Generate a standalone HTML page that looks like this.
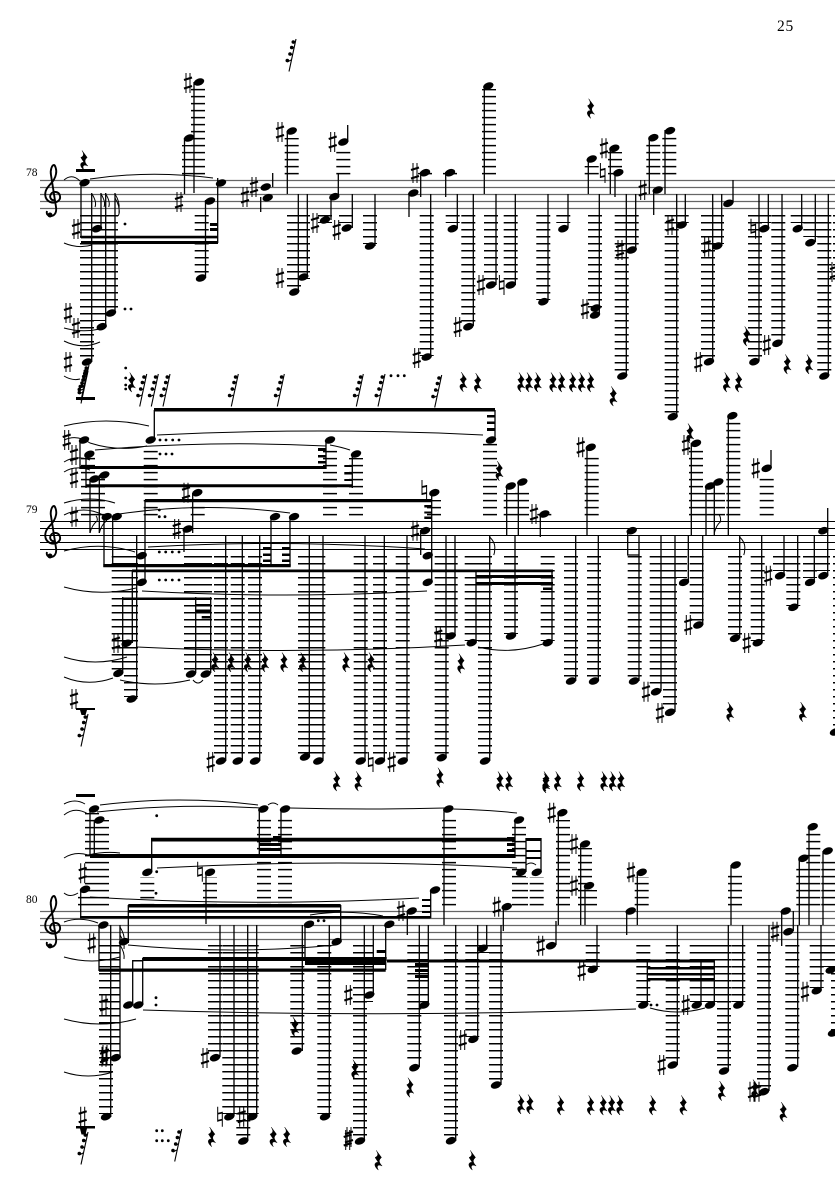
<!DOCTYPE html>
<html><head><meta charset="utf-8"><style>
html,body{margin:0;padding:0;background:#fff}
svg{display:block}
.l{fill:none;stroke:#000;stroke-width:14;stroke-dasharray:1.5 5.5}
.t{fill:none;stroke:#000;stroke-width:1.3}
.c{fill:none;stroke:#000;stroke-width:1}
text{font-family:"Liberation Serif",serif;fill:#000}
</style></head><body>
<svg width="835" height="1181" viewBox="0 0 835 1181" xmlns="http://www.w3.org/2000/svg">
<defs>
<ellipse id="n" rx="5.4" ry="3.5" transform="rotate(-20)"/>
<g id="s"><path d="M-2-10V10M2-10V10" stroke="#000" stroke-width="1" fill="none"/><path d="M-4-3L4-5.5M-4 5.5L4 3" stroke="#000" stroke-width="2.1" fill="none"/></g>
<g id="h"><path d="M-2.3-10V5M2.3-5V10" stroke="#000" stroke-width="1" fill="none"/><path d="M-2.3-3L2.3-4M-2.3 4L2.3 3" stroke="#000" stroke-width="1.7" fill="none"/></g>
<path id="r" d="M-2-9.5L3.2-2.5C.2 0 .2 2 3.8 6C.2 4-2.5 5.5 0 10C-5 6-4 1.8 0 2.4L-3.2-2.5C0-4 .2-6-2-9.5Z" stroke="#000" stroke-width=".5"/>
<g id="f"><path d="M5-16L-2 16.5" stroke="#000" stroke-width="1.1" fill="none"/><circle cx="2.3" cy="-13" r="1.8"/><circle cx=".7" cy="-7.5" r="1.8"/><circle cx="-1" cy="-1" r="1.8"/><circle cx="-3.7" cy="5.5" r="1.8"/><path d="M2.3-11.5L4.5-13M.7-6L3-8M-1 .5L1.5-1M-3.7 7L0 5" stroke="#000" stroke-width="1" fill="none"/></g>
<g id="k"><path d="M55 28c-4 1-6-3-4-6c2-3 8-3 9 2c1 5-5 8-10 6c-6-3-6-10-2-15c3-4 7-7 8-13c1-4-1-9-2-9c-2 0-4 5-3 10l5 32c1 6-2 9-5 9c-3 0-5-2-4-5" fill="none" stroke="#000" stroke-width="1.9"/><circle cx="50" cy="43" r="2.5"/></g>
</defs>
<rect width="835" height="1181" fill="#fff"/>
<text x="777" y="31" font-size="15.5" letter-spacing=".8">25</text>
<text x="26" y="176" font-size="11.5">78</text>
<text x="26" y="513" font-size="11.5">79</text>
<text x="26" y="903" font-size="11.5">80</text>

<!-- staves -->
<path d="M40 180.5H835M40 187.5H835M40 194.5H835M40 201.5H835M40 208.5H835" stroke="#666" stroke-width="1.2" fill="none"/>
<path d="M40 521.5H835M40 528.5H835M40 535.5H835M40 542.5H835M40 549.5H835" stroke="#000" stroke-width="1" fill="none"/>
<path d="M40 911.5H835M40 918.5H835M40 925.5H835M40 932.5H835M40 939.5H835" stroke="#666" stroke-width="1.2" fill="none"/>
<use href="#k" x="0" y="172"/><use href="#k" x="0" y="513"/><use href="#k" x="0" y="903"/>

<!-- system 1 ledgers -->
<path class="l" d="M87 215V359M99 215V321M111 215V311M201.7 215V276M294 215V291M303 215V279M325 215V223M346 215V223M370 215V244M426.7 215V356M452.7 215V223M468.3 215V325M491 215V283M510.7 215V283M543.3 215V300M563.3 215V223M595 215V311M631.7 215V246M621.7 215V374M681.7 215V223M671.7 215V415M708 215V360M717 215V244M755 215V360M764 215V223M778.3 215V339M797.7 215V223M810.3 215V237M824.3 215V374M840 215V281"/>
<path class="l" d="M198 174.4V87M189 174.4V145M291.7 174.4V138M343.3 174.4V149M489 174.4V89M591.7 174.4V166M615 174.4V152M653.3 174.4V144M669.3 174.4V137M425 174.4V172M450 174.4V172"/>
<!-- system 1 stems -->
<path class="t" d="M81 183V238M91.7 193V362M101 193V229M105.7 193V327M115 193V313M184.5 138V194M194 82V193M205.5 200V278M217.7 178V243M272.7 173V187M260.7 197V212M287.3 131V194M298.3 194V292M307.3 194V277M331 197V220M338.3 173V197M347.7 125V142M352.3 194V228M375 194V246M409 193V217M420.7 172V197M430.7 194V357M445.7 172V197M457.3 194V228M473.3 194V326M496 194V285M515.3 194V285M484.3 86V194M548 194V301M568 194V228M588.3 159V194M610.3 148V194M615 172V197M599.3 194V315M635.7 194V250M626.3 194V376M653.7 190V215M649.3 137V194M665 130V194M685.3 194V225M676.7 194V416M733 180V203M721.7 194V246M712.7 194V361M768.3 194V228M759 194V361M782 194V343M801.7 194V228M815.3 194V242M828.3 194V376"/>
<!-- system 1 beams -->
<path d="M81 235.7h137v2.7h-137zM81 241h137v3h-137zM210 223h8v3h-8zM210 228h8v3h-8zM76 169h19v3h-19zM76 397h19v3h-19zM154 408h341v3.5h-341z"/>
<!-- flags -->
<path class="c" d="M92 194q5 8 3 13M101 194q5 8 3 13M105.7 194q5 8 3 13M115 194q5 8 4 15q1 4-1 7M115 198q5 8 4 15"/>
<!-- ties -->
<path class="c" d="M64 180Q72 173 80 181M90 179Q150 170 213 178M64 243Q78 249 92 245M64 328Q82 333 100 329M64 341Q82 350 100 342M64 376Q72 381 80 379"/>
<g>
<use href="#n" x="84.5" y="182.7"/><use href="#n" x="97" y="228.7"/><use href="#n" x="111" y="313"/><use href="#n" x="101.7" y="326.7"/><use href="#n" x="87" y="362"/><use href="#n" x="199" y="82"/><use href="#n" x="189" y="138"/><use href="#n" x="210" y="201"/><use href="#n" x="221" y="183"/><use href="#n" x="201" y="278"/><use href="#n" x="265.7" y="187"/><use href="#n" x="267.7" y="197.7"/><use href="#n" x="291.7" y="131"/><use href="#n" x="294.3" y="292"/><use href="#n" x="303.3" y="277"/><use href="#n" x="325" y="220"/><use href="#n" x="334.3" y="196.7"/><use href="#n" x="343.3" y="142"/><use href="#n" x="346.7" y="228"/><use href="#n" x="370" y="246"/><use href="#n" x="413.3" y="193"/><use href="#n" x="425" y="172.7"/><use href="#n" x="426.7" y="357"/><use href="#n" x="450" y="172.7"/><use href="#n" x="452.7" y="228.7"/><use href="#n" x="468.3" y="326.7"/><use href="#n" x="491" y="285"/><use href="#n" x="510.7" y="285"/><use href="#n" x="488.3" y="86"/><use href="#n" x="543.3" y="301.7"/><use href="#n" x="563.3" y="228.7"/><use href="#n" x="591.7" y="159"/><use href="#n" x="614.3" y="148.3"/><use href="#n" x="618.3" y="172.7"/><use href="#n" x="595" y="315"/><use href="#n" x="595.7" y="308"/><use href="#n" x="631.7" y="250"/><use href="#n" x="622.3" y="376"/><use href="#n" x="657.7" y="190"/><use href="#n" x="653.3" y="137.7"/><use href="#n" x="670" y="130.7"/><use href="#n" x="681.7" y="225"/><use href="#n" x="672.7" y="416.7"/><use href="#n" x="728.3" y="203.3"/><use href="#n" x="717.3" y="246"/><use href="#n" x="709" y="361.7"/><use href="#n" x="764.3" y="228.7"/><use href="#n" x="754.3" y="361.7"/><use href="#n" x="777.3" y="343.3"/><use href="#n" x="797.7" y="228.7"/><use href="#n" x="810.3" y="242.7"/><use href="#n" x="824.3" y="376"/>
<use href="#s" x="76" y="229"/><use href="#s" x="68" y="313"/><use href="#s" x="76" y="328"/><use href="#s" x="68" y="362"/><use href="#s" x="188" y="83"/><use href="#s" x="179" y="202"/><use href="#s" x="245" y="197"/><use href="#s" x="254" y="187"/><use href="#s" x="280" y="132"/><use href="#s" x="280" y="278"/><use href="#s" x="315" y="223"/><use href="#s" x="336.7" y="230"/><use href="#s" x="332.7" y="142"/><use href="#s" x="415" y="173"/><use href="#s" x="416.7" y="358"/><use href="#s" x="457.7" y="327"/><use href="#s" x="481" y="285"/><use href="#s" x="604" y="148.3"/><use href="#s" x="585" y="309"/><use href="#s" x="620" y="250"/><use href="#s" x="642.7" y="190"/><use href="#s" x="670" y="225"/><use href="#s" x="706.7" y="246.7"/><use href="#s" x="698.3" y="362"/><use href="#s" x="766.7" y="345"/><use href="#s" x="834" y="272"/>
<use href="#h" x="501.7" y="285"/><use href="#h" x="602.7" y="173"/><use href="#h" x="753.3" y="228.7"/>
<use href="#r" x="590.7" y="108.3"/><use href="#r" x="746.7" y="336"/><use href="#r" x="787.3" y="364"/><use href="#r" x="809" y="364"/><use href="#r" x="463.3" y="381.7"/><use href="#r" x="477.7" y="382.7"/><use href="#r" x="521" y="382"/><use href="#r" x="529" y="382"/><use href="#r" x="537.7" y="382"/><use href="#r" x="553" y="382"/><use href="#r" x="561.7" y="382"/><use href="#r" x="572.7" y="382"/><use href="#r" x="581.7" y="382"/><use href="#r" x="590.7" y="382"/><use href="#r" x="613.3" y="396"/><use href="#r" x="726.7" y="382"/><use href="#r" x="738.7" y="382"/><use href="#r" x="131.7" y="382"/>
<use href="#f" x="291" y="55"/><use href="#f" x="141.7" y="390"/><use href="#f" x="153.3" y="390"/><use href="#f" x="165" y="390"/><use href="#f" x="233.3" y="390"/><use href="#f" x="279.3" y="390"/><use href="#f" x="358.3" y="390"/><use href="#f" x="380" y="390"/><use href="#f" x="436.7" y="391"/><use href="#f" x="84" y="381"/><use href="#f" x="83" y="384"/><use href="#f" x="83" y="387"/>
<use href="#r" x="84" y="160"/>
<circle cx="125" cy="224" r="1.4"/><circle cx="125" cy="309" r="1.4"/><circle cx="131" cy="309" r="1.4"/><circle cx="391" cy="375.7" r="1.4"/><circle cx="398" cy="375.7" r="1.4"/><circle cx="404.3" cy="375.7" r="1.4"/><circle cx="125.7" cy="368" r="1.4"/><circle cx="125.7" cy="378" r="1.4"/><circle cx="125.7" cy="385" r="1.4"/><circle cx="125.7" cy="389" r="1.4"/>
</g>

<!-- system 2 ledgers -->
<path class="l" d="M88 515.4V457M98 515.4V478M150.7 515.4V448M330 515.4V448M356 515.4V458M197.7 515.4V500M490 515.4V443M434 515.4V500M510.7 515.4V493M522 515.4V489M544.3 515.4V513M591.7 515.4V455M696 515.4V450M710 515.4V493M718 515.4V489M733.3 515.4V422M766.7 515.4V475"/>
<path class="l" d="M118.7 556V671M125 556V666M131 556V697M191 556V672M205 556V672M221 556V758M237.7 556V758M255 556V758M305 556V755M318.3 556V758M360.7 556V758M380 556V758M402.7 556V758M441.7 556V756M450.7 556V633M471.7 556V641M485 556V758M511 556V634M547.7 556V641M571 556V679M594 556V679M634.7 556V679M656.7 556V689M670 556V710M680 556V578M696.7 556V623M735 556V635M757.7 556V641M780 556V571M793.3 556V606M810 556V578M823 556V571M840 556V731"/>
<path class="t" d="M80 440V469M86 454V488M90 479V533M99.3 475V533M154.3 410V440M326 440V469M352.3 454V488M192.7 493V533M184 529V552M145 500V582M271 516V566M290 516V566M104 516V567M112.7 516V567M132.3 570V643M136.7 535V699M122.7 597V673M195.7 597V673M210.7 597V673M225.7 535V761M242.3 535V761M259.7 535V761M309.3 535V757M323 535V761M365 535V761M384.3 535V761M407 535V761M495 410V440M506.7 486V535M518.3 482V535M540.3 514V537M431.7 493V582M420.7 530V555M446 535V757M455 535V636M476 570V642M489.7 535V761M515 535V636M552 570V642M575.7 535V681M598.3 535V681M587 447V535M627.7 530V555H639M639 535V681M661 535V691M675 535V712M688.3 535V582M702.7 535V625M691.3 443V535M706 486V535M714.3 482V535M728.3 415V535M771 450V468M739.7 535V638M761.7 535V642M784 535V575M797.7 535V607M814.3 535V582M827.7 508V575"/>
<path d="M80 466h246v3h-246zM86 484.3h266.3v3h-266.3zM145 499h286.7v3.3h-286.7zM103.3 564h187.4v3.3h-187.4zM132 569.5h421v2.8h-421zM476 575h77v3h-77zM476 582h77v3h-77zM122.7 597.5h88v2.5h-88zM195.7 604h15v2.5h-15zM195.7 609.5h15v2.5h-15zM201.7 616h8.3v2.5h-8.3zM318 448h8v3h-8zM318 455h8v2.5h-8zM318 461h8v2.5h-8zM344.3 465h8v2h-8zM344.3 472h8v2.5h-8zM344.3 479h8v2h-8zM263 547h8v2h-8zM263 553.5h8v2.5h-8zM263 559.5h8v2.5h-8zM282 547h8v2h-8zM282 553.5h8v2.5h-8zM282 559.5h8v2.5h-8zM487 415h8v2.5h-8zM487 421.5h8v2.5h-8zM487 428h8v3h-8zM424.3 505h7.4v2.5h-7.4zM424.3 511.5h7.4v2h-7.4zM424.3 516.5h7.4v2.5h-7.4zM543 587.5h9v2.5h-9zM76 708h19v2h-19zM80 710h7l-1.5 5h-4z"/>
<path class="c" d="M90 533q2-8 7-12q1-3-1-5M99.3 533q2-8 7-12q1-3-1-5M489.7 537q6 6 5 12q0 4-1 6M739.7 537q6 6 5 12q0 4-1 6M714.3 533q2-8 6-11q1-4-1-7"/>
<path class="c" d="M64 426Q106 416 149 426M64 440Q77 434 90 443Q118 452 147 446M95 450Q210 440 326 446M157 435Q320 427 483 435M330 445Q341 447 350 450M113 515Q200 501 290 513M64 503Q90 495 115 503M64 515Q84 505 103 515M64 462Q75 455 90 460M64 472Q75 465 90 470M64 551Q100 541 135 552M64 587Q100 597 136 588M64 657Q95 667 127 657M64 677Q88 687 113 678M120 680Q155 688 190 680M193 680Q198 686 203 680M137 647Q300 655 465 645M148 547Q285 539 425 549M142 591Q285 599 427 591M478 647Q510 655 543 644"/>
<g>
<use href="#n" x="84" y="440"/><use href="#n" x="89.3" y="454.3"/><use href="#n" x="94.3" y="479"/><use href="#n" x="104.3" y="475"/><use href="#n" x="106.7" y="516.7"/><use href="#n" x="116.7" y="516.7"/><use href="#n" x="150.7" y="440"/><use href="#n" x="330" y="440"/><use href="#n" x="356" y="454"/><use href="#n" x="197.3" y="492.7"/><use href="#n" x="187.7" y="529"/><use href="#n" x="275" y="516.7"/><use href="#n" x="294" y="516.7"/><use href="#n" x="141.7" y="555.7"/><use href="#n" x="141.7" y="582.3"/><use href="#n" x="126.7" y="643.3"/><use href="#n" x="118.3" y="673.3"/><use href="#n" x="131.7" y="699"/><use href="#n" x="191" y="674"/><use href="#n" x="205.7" y="674"/><use href="#n" x="221" y="761"/><use href="#n" x="237.7" y="761"/><use href="#n" x="255" y="761"/><use href="#n" x="305" y="757"/><use href="#n" x="318.3" y="761"/><use href="#n" x="360.7" y="761"/><use href="#n" x="380" y="761"/><use href="#n" x="402.7" y="761"/><use href="#n" x="491" y="440"/><use href="#n" x="510.7" y="486"/><use href="#n" x="522.3" y="482"/><use href="#n" x="544.3" y="514"/><use href="#n" x="434.3" y="492.7"/><use href="#n" x="425" y="530.7"/><use href="#n" x="427.7" y="555.7"/><use href="#n" x="427.7" y="582.3"/><use href="#n" x="441.7" y="757.7"/><use href="#n" x="450.7" y="636"/><use href="#n" x="471.7" y="642.7"/><use href="#n" x="485" y="761"/><use href="#n" x="511" y="636"/><use href="#n" x="547.7" y="642.7"/><use href="#n" x="571" y="681"/><use href="#n" x="594" y="681"/><use href="#n" x="590.7" y="447.3"/><use href="#n" x="631.7" y="530.7"/><use href="#n" x="634" y="681"/><use href="#n" x="656" y="691.7"/><use href="#n" x="670" y="712.3"/><use href="#n" x="684" y="582.3"/><use href="#n" x="698.3" y="625"/><use href="#n" x="696" y="443.3"/><use href="#n" x="710" y="486"/><use href="#n" x="718.3" y="482"/><use href="#n" x="732.3" y="415.7"/><use href="#n" x="766.7" y="468.3"/><use href="#n" x="735" y="638.3"/><use href="#n" x="757.7" y="642.7"/><use href="#n" x="780" y="575.7"/><use href="#n" x="793.3" y="607.3"/><use href="#n" x="810" y="582.3"/><use href="#n" x="823.3" y="575.7"/><use href="#n" x="823.3" y="530.7"/><use href="#n" x="835" y="732"/>
<use href="#s" x="66.7" y="440"/><use href="#s" x="74" y="455"/><use href="#s" x="74" y="478"/><use href="#s" x="74" y="516.7"/><use href="#s" x="186" y="492.7"/><use href="#s" x="176.7" y="529"/><use href="#s" x="116" y="643"/><use href="#s" x="74" y="699"/><use href="#s" x="210.7" y="762"/><use href="#s" x="391.7" y="762"/><use href="#s" x="415" y="530.7"/><use href="#s" x="438.3" y="636"/><use href="#s" x="534" y="514"/><use href="#s" x="580.7" y="447.3"/><use href="#s" x="646" y="691.7"/><use href="#s" x="660" y="713"/><use href="#s" x="688.3" y="625"/><use href="#s" x="686" y="445"/><use href="#s" x="755.7" y="468.3"/><use href="#s" x="746.7" y="643"/><use href="#s" x="768.3" y="575.7"/>
<use href="#h" x="370.7" y="762"/><use href="#h" x="424.3" y="490"/>
<use href="#r" x="215" y="662"/><use href="#r" x="231" y="662"/><use href="#r" x="247.7" y="662"/><use href="#r" x="265" y="662"/><use href="#r" x="284" y="662"/><use href="#r" x="302.7" y="662"/><use href="#r" x="346" y="662"/><use href="#r" x="371" y="662"/><use href="#r" x="336.7" y="781"/><use href="#r" x="358.3" y="781"/><use href="#r" x="499.3" y="470.7"/><use href="#r" x="461" y="663.3"/><use href="#r" x="690" y="433"/><use href="#r" x="730" y="711.7"/><use href="#r" x="802.7" y="711.7"/><use href="#r" x="440" y="777.3"/><use href="#r" x="500" y="781"/><use href="#r" x="509" y="781"/><use href="#r" x="546" y="781"/><use href="#r" x="546" y="783"/><use href="#r" x="557.7" y="781"/><use href="#r" x="580.7" y="781"/><use href="#r" x="604" y="781"/><use href="#r" x="612.7" y="781"/><use href="#r" x="621" y="781"/>
<use href="#f" x="83" y="730"/>
<circle cx="160" cy="440" r="1.4"/><circle cx="166" cy="440" r="1.4"/><circle cx="172.7" cy="440" r="1.4"/><circle cx="179" cy="440" r="1.4"/><circle cx="160" cy="454" r="1.4"/><circle cx="166" cy="454" r="1.4"/><circle cx="172" cy="454" r="1.4"/><circle cx="159.3" cy="516.7" r="1.4"/><circle cx="165" cy="516.7" r="1.4"/><circle cx="159.3" cy="510" r="1.4"/><circle cx="159.3" cy="552" r="1.4"/><circle cx="165.7" cy="552" r="1.4"/><circle cx="172.3" cy="552" r="1.4"/><circle cx="179" cy="552" r="1.4"/><circle cx="159.3" cy="580" r="1.4"/><circle cx="165.7" cy="580" r="1.4"/><circle cx="172.3" cy="580" r="1.4"/><circle cx="179" cy="580" r="1.4"/>
</g>

<!-- system 3 ledgers -->
<path class="l" d="M92 905.4V813M102 905.4V820M264 905.4V816M285 905.4V816M147.3 905.4V877M210 905.4V877M85 905.4V896M449 905.4V816M519 905.4V826M521 905.4V877M536.7 905.4V877M563 905.4V820M585 905.4V848M590 905.4V890M641.7 905.4V877M735 905.4V872M803.3 905.4V864M813.3 905.4V833M828.3 905.4V858"/>
<path class="l" d="M106 945V1114M113.3 945V1054M215 945V1054M229.3 945V1114M251.7 945V1114M243.3 945V1139M297.3 945V1049M324.3 945V1114M360 945V1139M366 945V1002M414.3 945V1064M451 945V1139M472.3 945V1037M496 945V1083M592.7 945V967M422 945V1002M643.3 945V1002M672.7 945V1063M696.7 945V1002M710 945V1002M724 945V1069M738.3 945V1002M764 945V1089M792.3 945V1064M816.7 945V988M830.7 945V967M838 945V1031M482.7 945V953"/>
<path class="t" d="M90 809V856M94.3 820V856M151.7 840V872M206 872V924M259.3 809V856M281 809V856M80.7 889V917M128.3 905V943M340.7 905V942M99 925V971M132.7 960V1005M142.7 958V1005M110.7 925V1117M120 925V1058M220 925V1057M234 925V1116M256.7 925V1116M247.7 925V1141M302.3 925V1051M305 924V957M329.3 925V1116M373.3 925V995M364.3 925V1141M385.7 924V970M407.3 911V935M419.3 925V1067M444 809V925M515 820V858M430.7 890V918M526 838V872M541 838V872M503.3 906V931M558.3 812V925M556 921V945M580.7 844V925M585 885V925M597 925V969M455.7 925V1141M477.7 925V1039M486.7 925V948M501 925V1085M428.3 925V1005M637.3 872V925M626.7 911V935M647.3 960V1005M677.3 925V1065M701 960V1005M714.3 960V1005M731 865V925M728.3 925V1071M742.7 925V1005M769 925V1091M781.7 911V946M793.3 911V931M797.7 925V1067M799.3 858V925M809 826V925M823 851V925M821 925V990"/>
<path d="M90 854h425v4h-425zM151 837.7h364v3.8h-364zM80 916h350.7v2.5h-350.7zM128.3 904h212.4v3.5h-212.4zM128.3 910h212.4v2.7h-212.4zM99 968.5h286.7v3.2h-286.7zM142.7 957h244v4h-244zM305 957h80.7v8h-80.7zM132.7 960h10v1.5h-10zM387 959.5h327v3h-327zM647.3 967h67v2.5h-67zM647.3 973h67v2.5h-67zM647.3 978h67v2.5h-67zM259.3 843h21.7v3h-21.7zM259.3 848h21.7v3h-21.7zM273 836h8v3h-8zM376.7 950h9v3h-9zM422 899h8.7v2h-8.7zM422 905h8.7v2h-8.7zM422 911h8.7v2h-8.7zM507 837h8v3h-8zM507 843h8v3h-8zM507 849h8v3h-8zM526 838h15v3h-15zM526 850h15v2h-15zM526 857h15v2h-15zM415 963h13.3v3h-13.3zM415 969h13.3v3h-13.3zM415 975h13.3v3h-13.3zM76 794h19v3h-19zM76 1126h19v2.5h-19zM80 1128.5h7l-1.5 6h-4z"/>
<path class="c" d="M120 927q5 8 4 14M120 935q5 8 4 14M120 945q5 8 4 14"/>
<path class="c" d="M100 805Q180 795 258 805M97 812Q180 803 260 808M268 805Q273 801 278 805M290 808Q368 810 445 808M453 809Q490 810 517 813M64 804Q75 798 85 804M64 815Q75 806 88 814M64 858Q75 851 88 855Q105 851 120 853M64 893Q70 898 78 893M90 897Q250 907 419 898M64 922Q80 916 98 923M64 957Q92 965 120 957M128 945Q232 955 336 945M157 868Q340 858 517 868M64 1019Q100 1029 136 1019M64 1072Q88 1080 113 1072M143 1010Q390 1018 636 1009M650 1008Q677 1016 705 1008M310 915Q346 909 383 916M526 865Q531 861 536 865"/>
<g>
<use href="#n" x="94" y="809"/><use href="#n" x="99.3" y="820"/><use href="#n" x="85" y="889.3"/><use href="#n" x="147.3" y="872.3"/><use href="#n" x="210" y="872.3"/><use href="#n" x="263.3" y="809"/><use href="#n" x="285" y="809"/><use href="#n" x="103.3" y="925"/><use href="#n" x="124" y="941.7"/><use href="#n" x="336.7" y="941.7"/><use href="#n" x="128.3" y="1005"/><use href="#n" x="138.3" y="1005"/><use href="#n" x="106" y="1116.7"/><use href="#n" x="115.7" y="1057.7"/><use href="#n" x="215" y="1057.7"/><use href="#n" x="229.3" y="1116.7"/><use href="#n" x="252.3" y="1116.7"/><use href="#n" x="243.3" y="1141"/><use href="#n" x="296.7" y="1051"/><use href="#n" x="309" y="924.3"/><use href="#n" x="325" y="1116.7"/><use href="#n" x="369.3" y="995"/><use href="#n" x="360" y="1141"/><use href="#n" x="389.3" y="924.3"/><use href="#n" x="411.7" y="911"/><use href="#n" x="414.3" y="1067.7"/><use href="#n" x="448.3" y="809"/><use href="#n" x="519" y="820"/><use href="#n" x="435" y="890"/><use href="#n" x="521" y="872.3"/><use href="#n" x="536.7" y="872.3"/><use href="#n" x="506.7" y="906.7"/><use href="#n" x="562.3" y="812.7"/><use href="#n" x="551" y="945.7"/><use href="#n" x="585" y="844"/><use href="#n" x="589" y="885.7"/><use href="#n" x="592.7" y="969.3"/><use href="#n" x="451" y="1140.7"/><use href="#n" x="473.3" y="1039.3"/><use href="#n" x="482.7" y="948.3"/><use href="#n" x="496" y="1085"/><use href="#n" x="424.3" y="1005"/><use href="#n" x="641.7" y="872.3"/><use href="#n" x="630.7" y="911"/><use href="#n" x="643.3" y="1005"/><use href="#n" x="672.7" y="1065"/><use href="#n" x="696.7" y="1005"/><use href="#n" x="710" y="1005"/><use href="#n" x="735.7" y="865"/><use href="#n" x="724" y="1071"/><use href="#n" x="738.3" y="1005"/><use href="#n" x="764" y="1091.7"/><use href="#n" x="785.7" y="911"/><use href="#n" x="788.3" y="931.7"/><use href="#n" x="792.3" y="1067.7"/><use href="#n" x="803.3" y="858.3"/><use href="#n" x="812.7" y="826.7"/><use href="#n" x="827.7" y="851"/><use href="#n" x="816.7" y="990.7"/><use href="#n" x="830.7" y="970"/><use href="#n" x="833" y="1033"/>
<use href="#s" x="82.7" y="873.3"/><use href="#s" x="91.7" y="943.3"/><use href="#s" x="104" y="1005"/><use href="#s" x="104" y="1056.7"/><use href="#s" x="105" y="1055"/><use href="#s" x="205" y="1058"/><use href="#s" x="241.7" y="1116.7"/><use href="#s" x="82.7" y="1116.7"/><use href="#s" x="348.3" y="995"/><use href="#s" x="347.7" y="1140"/><use href="#s" x="349" y="1137"/><use href="#s" x="401" y="911"/><use href="#s" x="496.7" y="906.7"/><use href="#s" x="551.7" y="812.7"/><use href="#s" x="540.7" y="945.7"/><use href="#s" x="574" y="844"/><use href="#s" x="574" y="885.7"/><use href="#s" x="581.7" y="970.7"/><use href="#s" x="462.7" y="1040"/><use href="#s" x="631" y="872.3"/><use href="#s" x="661.7" y="1065"/><use href="#s" x="685.7" y="1005"/><use href="#s" x="752" y="1091.7"/><use href="#s" x="757" y="1091.7"/><use href="#s" x="775" y="931.7"/><use href="#s" x="805" y="991.7"/>
<use href="#h" x="200" y="871.7"/><use href="#h" x="220" y="1116.7"/>
<use href="#r" x="295" y="1026.7"/><use href="#r" x="355" y="1069.3"/><use href="#r" x="410" y="1087.3"/><use href="#r" x="211.7" y="1136.7"/><use href="#r" x="273.3" y="1136.7"/><use href="#r" x="286.7" y="1136.7"/><use href="#r" x="378.3" y="1160"/><use href="#r" x="472.3" y="1160"/><use href="#r" x="521" y="1104"/><use href="#r" x="530" y="1104"/><use href="#r" x="560.7" y="1105"/><use href="#r" x="590.7" y="1105"/><use href="#r" x="603.3" y="1105"/><use href="#r" x="611.7" y="1105"/><use href="#r" x="620" y="1105"/><use href="#r" x="652.7" y="1105"/><use href="#r" x="683.3" y="1105"/><use href="#r" x="721.7" y="1090.7"/><use href="#r" x="783.3" y="1111.7"/><use href="#r" x="755" y="1089"/>
<use href="#f" x="176.7" y="1145"/><use href="#f" x="83" y="1148"/>
<circle cx="156.7" cy="815.7" r="1.4"/><circle cx="156.7" cy="871.7" r="1.4"/><circle cx="156" cy="893.3" r="1.4"/><circle cx="156" cy="997.7" r="1.4"/><circle cx="156" cy="1005" r="1.4"/><circle cx="318.3" cy="920.7" r="1.4"/><circle cx="324" cy="920.7" r="1.4"/><circle cx="156.7" cy="1130.7" r="1.4"/><circle cx="162.3" cy="1130.7" r="1.4"/><circle cx="156.7" cy="1140.7" r="1.4"/><circle cx="162.3" cy="1140.7" r="1.4"/><circle cx="168.3" cy="1140.7" r="1.4"/><circle cx="651" cy="1005" r="1.4"/><circle cx="657" cy="1005" r="1.4"/>
</g>
</svg>
</body></html>
